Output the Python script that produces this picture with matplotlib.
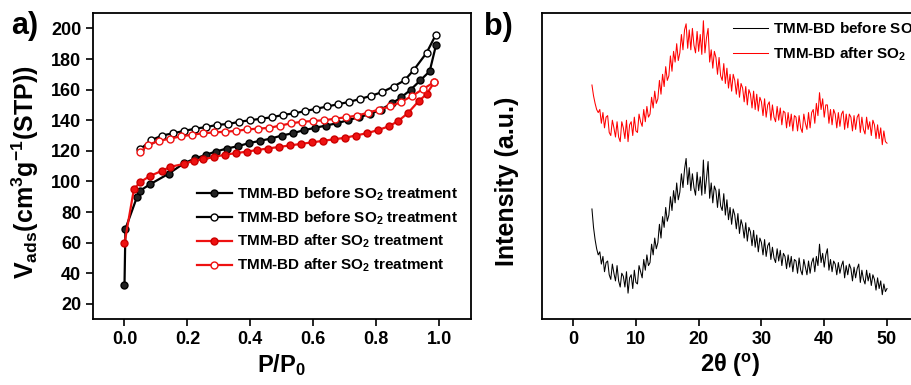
import numpy as np
import matplotlib
matplotlib.use('Agg')
import matplotlib.pyplot as plt

plt.rcParams['font.family'] = ['Liberation Sans', 'DejaVu Sans']
plt.rcParams['font.weight'] = 'bold'
plt.rcParams['mathtext.fontset'] = 'custom'
plt.rcParams['mathtext.default'] = 'bf'
plt.rcParams['mathtext.bf'] = 'Liberation Sans:bold'
plt.rcParams['mathtext.rm'] = 'Liberation Sans:bold'

# ---- panel a: N2 isotherms ----
before_ads_p = [0.0, 0.003, 0.04, 0.05, 0.08, 0.14, 0.19, 0.225, 0.26, 0.29, 0.325, 0.36, 0.395,
                0.43, 0.465, 0.50, 0.535, 0.57, 0.605, 0.64, 0.675, 0.71, 0.745, 0.78, 0.815,
                0.85, 0.88, 0.91, 0.94, 0.97, 0.99]
before_ads_v = [32, 69, 90, 94, 98, 105, 112, 115, 117.5, 119.5, 121.5, 123, 125,
                126.5, 128, 130, 131.5, 133.5, 135, 136.5, 138, 140, 142, 144, 147,
                151, 155, 160, 166, 172, 189]
before_des_p = [0.99, 0.96, 0.92, 0.89, 0.855, 0.82, 0.785, 0.75, 0.715, 0.68, 0.645, 0.61,
                0.575, 0.54, 0.505, 0.47, 0.435, 0.40, 0.365, 0.33, 0.295, 0.26, 0.225,
                0.19, 0.155, 0.12, 0.085, 0.05]
before_des_v = [196, 184, 173, 166, 162, 158.5, 156, 154, 152, 150.5, 149, 147.5,
                146, 144.5, 143.5, 142, 141, 140, 139, 137.5, 137, 135.5, 134.5,
                133, 131.5, 130, 127, 121]
after_ads_p = [0.0, 0.03, 0.05, 0.08, 0.12, 0.145, 0.19, 0.22, 0.25, 0.285, 0.32, 0.355, 0.39,
               0.42, 0.455, 0.49, 0.525, 0.56, 0.595, 0.63, 0.665, 0.70, 0.735, 0.77, 0.805,
               0.84, 0.87, 0.90, 0.935, 0.96, 0.985]
after_ads_v = [59.5, 95, 99.5, 103.5, 107, 109.5, 111.5, 113.5, 114.5, 116, 117.5, 118.5, 119.5,
               120.5, 121.5, 122.5, 123.5, 124.5, 125.5, 126.5, 127.5, 128.5, 130, 131.5, 133.5,
               136, 139.5, 144.5, 152.5, 157, 165]
after_des_p = [0.985, 0.95, 0.915, 0.88, 0.845, 0.81, 0.775, 0.74, 0.705, 0.67, 0.635, 0.60,
               0.565, 0.53, 0.495, 0.46, 0.425, 0.39, 0.355, 0.32, 0.285, 0.25, 0.215, 0.18,
               0.145, 0.11, 0.075, 0.05]
after_des_v = [165, 160.5, 156, 152, 149, 147, 145, 143, 142, 141, 140, 139.5,
               139, 138, 136.5, 135, 134.5, 134, 133, 132.5, 132, 131.5, 130.5, 129.5,
               128, 126.5, 124, 119]

# ---- panel b: XRD, 2theta from 3 to 50 deg, step 0.25 (arb. units) ----
xrd_before = [36, 30, 26, 23, 21,
              22, 18, 20.5, 15.5, 18.5, 19, 14.5, 13, 18, 15, 12.5, 17.5, 12.5, 10.5, 15, 14,
              10.5, 15.5, 8.5, 13.5, 14.5, 10, 16, 12, 11.5, 17.5, 15.5, 13.5, 19.5, 16, 21, 17.5,
              18.5, 24.5, 21, 26.5, 23, 25, 31, 26.5, 33.5, 30, 36.5, 32, 34, 40, 35.5, 42,
              38, 44.5, 39, 41.5, 47.5, 43, 49, 52.5, 44, 49.5, 42, 47.5, 43, 40.5, 48, 42,
              46.5, 40.5, 52, 41, 46, 51.5, 39.5, 44.5, 38, 43.5, 42, 36.5, 42.5, 37, 35.5, 41,
              34, 39, 32.5, 36.5, 31, 36, 34, 29.5, 34.5, 28, 32.5, 30.5, 26.5, 31.5, 25.5, 30,
              28.5, 24, 29, 23.5, 27.5, 22, 26.5, 25, 21, 26, 20.5, 24, 25, 19.5, 23.5, 20,
              18.5, 23, 19, 22.5, 17.5, 21.5, 20.5, 16.5, 21, 17, 20.5, 15.5, 19.5, 19, 15, 20,
              16, 14.5, 19.5, 17, 14.5, 19, 15, 18.5, 20, 15.5, 20.5, 17.5, 24.5, 18.5, 21.5, 17,
              21, 23, 16, 19.5, 15.5, 19, 18, 14.5, 18.5, 15, 17.5, 19, 13.5, 17.5, 14.5, 18,
              16.5, 12.5, 17, 13.5, 16.5, 18, 12, 16, 13, 11.5, 16, 12.5, 15, 11, 14.5, 13,
              9.5, 13.5, 10, 12.5, 8, 11.5, 9, 10]
xrd_after = [76.5, 73, 70.5, 68.5, 67.5,
             68.5, 64, 67.5, 62.5, 66, 66.5, 61, 60, 65, 62.5, 59.5, 64.5, 59.5, 58, 64.5, 62.5,
             59, 65, 58, 63.5, 64.5, 60, 66, 61.5, 61, 67, 64.5, 63, 68.5, 64.5, 69.5, 66,
             67, 72.5, 69, 74.5, 70.5, 72, 78, 73.5, 80, 76, 82.5, 78, 79.5, 86, 81, 87.5,
             84, 90, 84.5, 87, 93, 88, 94.5, 96.5, 88.5, 94.5, 88, 95, 89.5, 87, 94, 87.5,
             93, 86.5, 97.5, 87, 92, 95, 84, 88, 82, 87.5, 85.5, 80, 85.5, 79.5, 78, 83.5,
             77, 82, 75.5, 80, 74.5, 80, 78, 73.5, 78.5, 72.5, 77, 75.5, 71, 76, 70, 75,
             73.5, 69, 74.5, 68.5, 73.5, 68, 72.5, 71, 66.5, 72, 66, 70, 71, 65, 70, 66,
             64.5, 69.5, 65, 69, 63.5, 68, 67.5, 62.5, 67.5, 63, 67, 61.5, 66.5, 66, 61.5, 66.5,
             62.5, 61, 67, 64, 62, 67.5, 62.5, 67.5, 68.5, 64, 70.5, 66.5, 74, 68.5, 72, 66,
             70, 70, 64, 68.5, 63.5, 68.5, 67, 62.5, 67.5, 63, 67, 68, 62, 67, 62.5, 67,
             66, 61.5, 66.5, 62, 66, 67, 61, 66, 62, 60.5, 66, 62, 64.5, 60, 65, 63.5,
             59, 63.5, 59, 62.5, 57, 61.5, 58, 57.5]
two_theta = np.linspace(3, 50, len(xrd_before))

label_before = 'TMM-BD before SO$_2$ treatment'
label_after = 'TMM-BD after SO$_2$ treatment'

fig = plt.figure(figsize=(9.12, 3.85), dpi=100)
ax1 = fig.add_axes([0.102, 0.171, 0.414, 0.795])
ax2 = fig.add_axes([0.594, 0.171, 0.413, 0.795])

ms = 5
ax1.plot(before_ads_p, before_ads_v, '-o', color='black', lw=1.6, ms=ms, mfc='#222222', mec='black', label=label_before)
ax1.plot(before_des_p, before_des_v, '-o', color='black', lw=1.6, ms=ms, mfc='white', mec='black', label=label_before)
ax1.plot(after_ads_p, after_ads_v, '-o', color='#ee1111', lw=1.6, ms=ms, mfc='#ee1111', mec='#cc0000', label=label_after)
ax1.plot(after_des_p, after_des_v, '-o', color='#ee1111', lw=1.6, ms=ms, mfc='white', mec='#ee1111', label=label_after)

ax1.set_xlim(-0.1, 1.1)
ax1.set_ylim(10, 210)
ax1.set_xticks([0.0, 0.2, 0.4, 0.6, 0.8, 1.0])
ax1.set_yticks(range(20, 201, 20))
ax1.set_xlabel('P/P$_0$', fontsize=17, fontweight='bold', labelpad=3)
ax1.set_ylabel('V$_{ads}$(cm$^3$g$^{-1}$(STP))', fontsize=18, fontweight='bold')
ax1.yaxis.set_label_coords(-0.137, 0.48)
ax1.legend(loc='upper left', bbox_to_anchor=(0.275, 0.437), frameon=False, fontsize=11,
           handlelength=2.3, handletextpad=0.3, labelspacing=0.42, borderpad=0, borderaxespad=0)
ax1.text(-0.218, 0.957, 'a)', transform=ax1.transAxes, fontsize=22, fontweight='bold', ha='left', va='center')

ax2.plot(two_theta, xrd_before, color='black', lw=0.75)
ax2.plot(two_theta, xrd_after, color='red', lw=0.75)
ax2.set_xlim(-5, 55)
ax2.set_ylim(0, 100)
ax2.set_xticks([0, 10, 20, 30, 40, 50])
ax2.set_yticks([])
ax2.set_xlabel('2θ ($^o$)', fontsize=17, fontweight='bold', labelpad=3)
ax2.set_ylabel('Intensity (a.u.)', fontsize=18, fontweight='bold')
ax2.yaxis.set_label_coords(-0.06, 0.45)
ax2.legend(['TMM-BD before SO$_2$', 'TMM-BD after SO$_2$'], loc='upper left',
           bbox_to_anchor=(0.507, 0.975), frameon=False, fontsize=11,
           handlelength=2.3, handletextpad=0.35, labelspacing=0.5, borderpad=0, borderaxespad=0)
ax2.text(-0.153, 0.954, 'b)', transform=ax2.transAxes, fontsize=22, fontweight='bold', ha='left', va='center')

for ax in (ax1, ax2):
    for s in ax.spines.values():
        s.set_linewidth(1.3)
    ax.tick_params(direction='out', width=1.2, length=5, labelsize=13)
    for lab in ax.get_xticklabels() + ax.get_yticklabels():
        lab.set_fontweight('bold')

fig.savefig('out.png', dpi=100)
